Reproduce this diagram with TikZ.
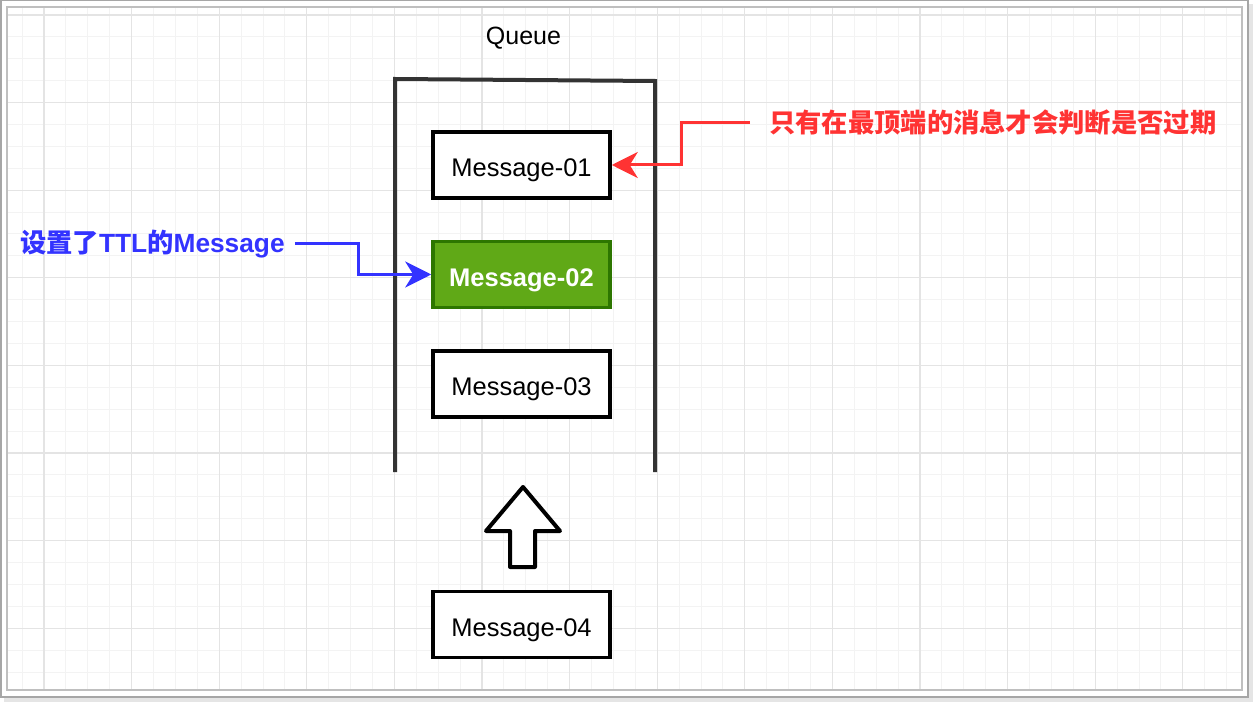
\documentclass[tikz,border=0pt]{standalone}
\usepackage{fontspec}
\setmainfont{Liberation Sans}
\newfontfamily\cjk{Noto Sans CJK SC}
\usetikzlibrary{arrows.meta}
\definecolor{gridmajor}{HTML}{E4E4E4}
\definecolor{gridminor}{HTML}{F3F3F3}
\definecolor{queuegray}{HTML}{333333}
\definecolor{ttlgreen}{HTML}{60A917}
\definecolor{ttldark}{HTML}{2D7600}
\definecolor{notered}{HTML}{FF3333}
\definecolor{noteblue}{HTML}{3333FF}
\newcommand\colorGridMajor{gridmajor}
\newcommand\colorGridMinor{gridminor}
\newcommand\colorQueue{queuegray}
\newcommand\gridMinor{21.9}
\newcommand\gridMajor{87.6}
\newcommand\drawGrid{
	\foreach \k in {-1,...,54}{
		\draw[color=\colorGridMinor, line width=1] (44+\k*\gridMinor,7) to (44+\k*\gridMinor,690);
	}
	\foreach \k in {0,...,30}{
		\draw[color=\colorGridMinor, line width=1] (7,15+\k*\gridMinor) to (1242,15+\k*\gridMinor);
	}
	\foreach \k in {0,...,13}{
		\draw[color=\colorGridMajor, line width=1.2] (44+\k*\gridMajor,7) to (44+\k*\gridMajor,690);
	}
	\foreach \k in {0,...,7}{
		\draw[color=\colorGridMajor, line width=1.2] (7,15+\k*\gridMajor) to (1242,15+\k*\gridMajor);
	}
}
\tikzset{
	msg/.style={draw=black, line width=3.5, fill=white, minimum width=177, minimum height=66,
		inner sep=0, text height=24, text depth=0, font=\fontsize{25.5}{30}\selectfont},
	msgttl/.style={msg, draw=ttldark, fill=ttlgreen, text=white,
		font=\fontsize{25.5}{30}\selectfont\bfseries},
	note/.style={inner sep=0, font=\fontsize{26.3}{30}\selectfont\bfseries},
	notearrow/.style={line width=3, -{Stealth[length=26,width=26,inset=8]}},
	queuewall/.style={color=\colorQueue, line width=4},
	blockarrow/.style={draw=black, fill=white, line width=4, line join=round}
}
\begin{document}
\begin{tikzpicture}[x=1pt,y=-1pt]
		\useasboundingbox (0,0) rectangle (1254,703);
		% frame
		\fill[black!10] (4,4) rectangle (1253,702);
		\draw[fill=white, draw=black!35, line width=1.5] (0.75,0.75) rectangle (1248,697);
		\drawGrid
		\draw[draw=black!25, line width=1.2] (7,7) rectangle (1242,690);
		
		% queue
		\draw[queuewall] (395,472) to (395,79) to (655,81) to (655,472);
		\node[font=\fontsize{25}{30}\selectfont] (queue) at (523.5,38) {Queue};
		
		\node[msg] (msg1) at (521.5,165) {Message-01};
		\node[msgttl] (msg2) at (521.5,274.5) {Message-02};
		\node[msg] (msg3) at (521.5,384) {Message-03};
		\node[msg] (msg4) at (521.5,624.5) {Message-04};
		
		\draw[blockarrow] (523,487) to (560,531) to (535,531) to (535,567)
			to (510,567) to (510,531) to (486,531) to cycle;
		
		% notes
		\node[note, text=notered, anchor=west] (topnote) at (769,123)
			{\cjk 只有在最顶端的消息才会判断是否过期};
		\node[note, text=noteblue, anchor=west, inner xsep=10] (ttlnote) at (10,244)
			{{\cjk 设置了}TTL{\cjk 的}Message};
		\coordinate (topbend) at (681,140);
		\coordinate (ttlbend) at (358,260);
		
		\draw[notearrow, color=notered] ([xshift=-19]topnote.west) -| (topbend) |- (msg1.east);
		\draw[notearrow, color=noteblue] (ttlnote.east) -| (ttlbend) |- (msg2.west);
	\end{tikzpicture}
\end{document}
